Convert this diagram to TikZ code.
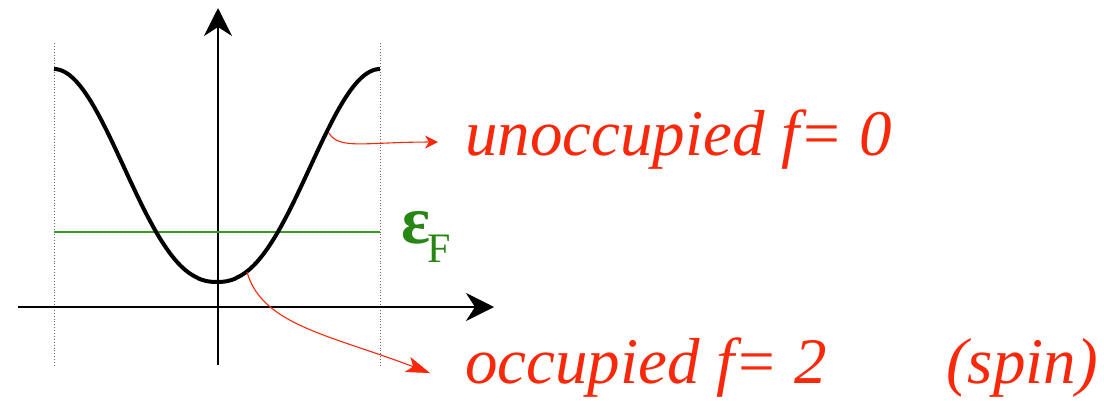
\documentclass[tikz,border=0pt]{standalone}
\usepackage{fontspec}
\setmainfont{Liberation Serif}
\usetikzlibrary{arrows.meta}
\definecolor{lblred}{RGB}{250,40,10}
\definecolor{fermigreen}{RGB}{50,160,30}
\definecolor{labgreen}{RGB}{40,135,20}
\tikzset{
  axisline/.style={line width=2pt,-{Stealth[length=28pt,width=28pt,inset=9pt]}},
  guide/.style={gray!80!black,line width=0.9pt,dotted},
  bandline/.style={line width=4pt,line join=round},
  fermiline/.style={fermigreen,line width=2pt},
  pointer/.style={lblred,line width=1.1pt},
  lbl/.style={lblred,inner sep=0pt,anchor=base west,font=\fontsize{65}{70}\selectfont\itshape},
}
\begin{document}
\begin{tikzpicture}[x=1pt,y=-1pt]
\useasboundingbox (0,0) rectangle (1104,400);
% guides
\coordinate (gl1) at (54,43); \coordinate (gl2) at (54,365);
\coordinate (gr1) at (380,43); \coordinate (gr2) at (380,365);
\draw[guide] (gl1) -- (gl2);
\draw[guide] (gr1) -- (gr2);
% axes
\coordinate (ya) at (218,365); \coordinate (yb) at (218,8);
\coordinate (xa) at (18,307); \coordinate (xb) at (494,307);
\draw[axisline] (ya) -- (yb);
\draw[axisline] (xa) -- (xb);
% fermi level
\coordinate (fa) at (54,232); \coordinate (fb) at (380,232);
\draw[fermiline] (fa) -- (fb);
\node[labgreen,inner sep=0pt,anchor=base west] (ef) at (401,243)
  {\fontsize{68}{70}\selectfont\bfseries ε\kern-3pt\raisebox{-19pt}{\fontsize{42}{44}\mdseries\selectfont F}};
% band
\draw[bandline] plot[domain=-163:163,samples=120,smooth]
  ({217+\x},{69+106.5*(1+cos(180*(abs(\x)/163)^1.15))});
% labels
\node[lbl] (u) at (465,155) {unoccupied $\mathit{f}$= 0};
\node[lbl] (o) at (465,383) {occupied $\mathit{f}$= 2};
\node[lbl] (s) at (946,383) {(spin)};
% pointers
\coordinate (s1) at (329,133);
\coordinate (s2) at (247,272);
\draw[pointer,-{Stealth[length=13pt,width=13pt,inset=4pt]}] (s1) .. controls (339,150) and (365,142) .. ([xshift=-27pt,yshift=-3pt]u.west);
\draw[pointer,-{Stealth[length=24pt,width=16pt,inset=6pt]}] (s2) .. controls (262,325) and (330,335) .. ([xshift=-35pt,yshift=-6pt]o.west);
\end{tikzpicture}
\end{document}
